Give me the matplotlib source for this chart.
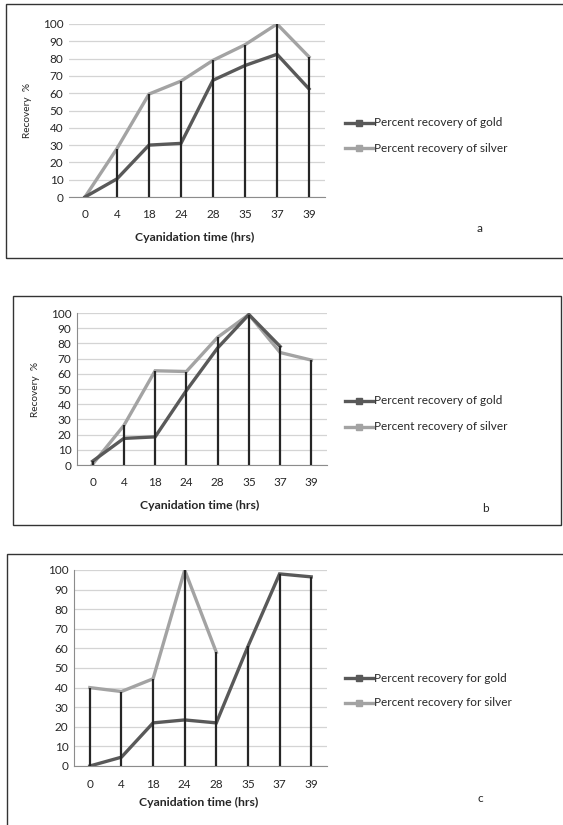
import numpy as np
import matplotlib
matplotlib.use('Agg')
import matplotlib.pyplot as plt
from matplotlib.lines import Line2D
from matplotlib.patches import Rectangle

plt.rcParams['font.family'] = ['Lato', 'DejaVu Sans']

W, H = 563, 825

horas = ['0', '4', '18', '24', '28', '35', '37', '39']

ouro_a = [0, 10.5, 30, 31, 67.5, 76, 82.5, 62.5]
prata_a = [0, 28, 59.5, 67, 79, 88, 100, 81]

ouro_b = [2.5, 17.5, 18.5, 49, 77, 99, 78, np.nan]
prata_b = [0.5, 26, 62, 61.5, 84, 99, 74, 69]

ouro_c = [0, 4.5, 22, 23.5, 22, 61, 98, 96.5]
prata_c = [40, 38, 44.5, 100, 58, np.nan, np.nan, np.nan]

COR_OURO = '#595959'
COR_PRATA = '#a3a3a3'
COR_QUEDA = '#262626'


def fx(px):
    return px / W


def fy(py):
    return 1 - py / H


def moldura(fig, x0, y0, x1, y1):
    fig.patches.append(Rectangle((fx(x0), fy(y1)), fx(x1 - x0), (y1 - y0) / H,
                                 transform=fig.transFigure, fill=False,
                                 edgecolor='#333333', linewidth=1.0))


def painel(fig, caixa, ouro, prata, nomes, ylabel, eixo_y, leg_y, letra, xlab_y):
    x0, x1, y_top, y_bot = caixa
    ax = fig.add_axes([fx(x0), fy(y_bot), fx(x1 - x0), (y_bot - y_top) / H])
    x = np.arange(len(horas))
    ax.set_xlim(-0.5, len(horas) - 0.5)
    ax.set_ylim(0, 100)
    ax.set_yticks(range(0, 101, 10))
    ax.set_xticks(x)
    ax.set_xticklabels(horas)
    ax.grid(axis='y', color='#d4d4d4', linewidth=0.9)
    ax.set_axisbelow(True)
    for s in ['top', 'right']:
        ax.spines[s].set_visible(False)
    ax.spines['bottom'].set_color('#8c8c8c')
    if eixo_y:
        ax.spines['left'].set_color('#8c8c8c')
    else:
        ax.spines['left'].set_visible(False)
    ax.tick_params(length=0, labelsize=8.5, colors='#262626', pad=4)
    ax.tick_params(axis='x', pad=9)

    ax.plot(x, prata, color=COR_PRATA, linewidth=2.4, solid_joinstyle='miter', zorder=3)
    ax.plot(x, ouro, color=COR_OURO, linewidth=2.4, solid_joinstyle='miter', zorder=3)
    topo = np.nanmax(np.vstack([ouro, prata]), axis=0)
    ax.vlines(x, 0, topo, color=COR_QUEDA, linewidth=1.6, zorder=4)

    if ylabel:
        fig.text(fx(x0 - 41), fy((y_top + y_bot) / 2), ylabel, rotation=90,
                 ha='center', va='center', fontsize=7.3, color='#262626')
    fig.text(fx((x0 + x1) / 2 - 2), fy(xlab_y), 'Cyanidation time (hrs)', ha='center',
             va='center', fontsize=8.8, fontweight='bold', color='#262626')

    for yy, cor, nome in zip(leg_y, [COR_OURO, COR_PRATA], nomes):
        fig.lines.append(Line2D([fx(345), fx(359), fx(373)], [fy(yy)] * 3,
                                transform=fig.transFigure, color=cor, linewidth=2.4,
                                marker='s', markersize=5, markevery=[1]))
        fig.text(fx(374), fy(yy), nome, ha='left', va='center', fontsize=8.5,
                 color='#262626')
    fig.text(fx(letra[0]), fy(letra[1]), letra[2], ha='center', va='center',
             fontsize=8.5, color='#262626')
    return ax


fig = plt.figure(figsize=(W / 100, H / 100), dpi=100)

moldura(fig, 6, 4, 575, 258)
moldura(fig, 13, 296, 561, 525)
moldura(fig, 7, 554, 575, 840)

painel(fig, (69, 325, 24, 197), ouro_a, prata_a,
       ['Percent recovery of gold', 'Percent recovery of silver'],
       'Recovery  %', False, (123, 148), (480, 228, 'a'), 237)
painel(fig, (77, 327, 313, 465), ouro_b, prata_b,
       ['Percent recovery of gold', 'Percent recovery of silver'],
       'Recovery  %', True, (401, 427), (485, 508, 'b'), 505)
painel(fig, (74, 327, 570, 766), ouro_c, prata_c,
       ['Percent recovery for gold', 'Percent recovery for silver'],
       None, True, (678, 703), (480, 798, 'c'), 802)

fig.savefig('out.png', dpi=100)
